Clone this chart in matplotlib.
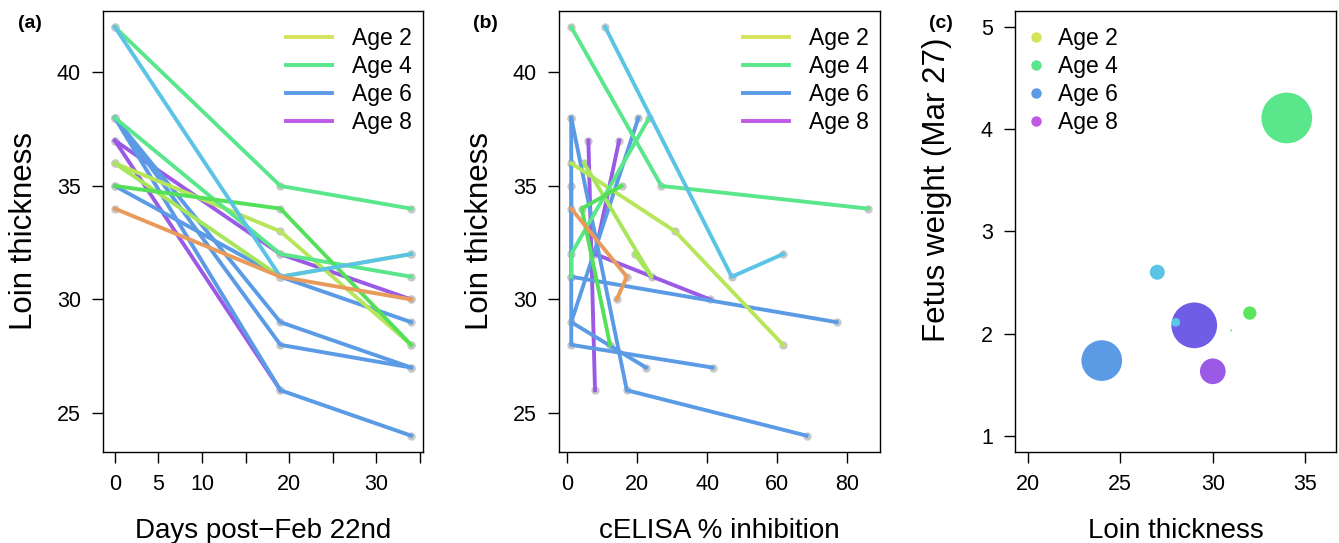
import numpy as np
import matplotlib
matplotlib.use('Agg')
import matplotlib.pyplot as plt
from matplotlib.lines import Line2D

plt.rcParams['font.family'] = ['Liberation Sans', 'DejaVu Sans']

nan = np.nan

# ---------------- data ----------------
days = [0, 19, 34]
animals = ['P1', 'P2', 'B1', 'B2', 'B3', 'B4', 'Y1', 'Y2', 'G1', 'G2', 'G3', 'C1', 'O1']
loin_d0 = [37, 37, 38, 38, 38, 35, 36, 36, 42, 38, 35, 42, 34]
loin_d19 = [26, 32, 29, 28, 26, 31, 33, 31, 35, 32, 34, 31, 31]
loin_d34 = [nan, 30, 27, 27, 24, 29, 28, 32, 34, 31, 28, 32, 30]
celisa_d0 = [6.0, 14.8, 20.3, 1.1, 1.1, 1.1, 1.1, 4.8, 1.1, 23.4, 15.5, 10.8, 1.1]
celisa_d19 = [7.9, 7.9, 1.1, 1.1, 17.0, 1.1, 30.8, 24.1, 26.9, 1.1, 4.1, 47.0, 17.0]
celisa_d34 = [nan, 40.8, 22.5, 41.5, 68.4, 77.0, 61.7, 19.3, 86.0, 1.1, 12.2, 61.7, 14.1]

age_labels = ['Age 2', 'Age 4', 'Age 6', 'Age 8']

c_loin = [34.0, 27.0, 32.0, 29.0, 28.0, 31.0, 24.0, 30.0]
c_weight = [4.11, 2.60, 2.20, 2.08, 2.11, 2.03, 1.735, 1.63]
c_size = [50.7, 15.0, 13.3, 45.7, 8.7, 2.0, 40.7, 25.7]

# ---------------- styles ----------------
age_colors = ['#d4e35a', '#5ae68a', '#5b9be6', '#c05ae6']
line_colors = ['#9b5ae6', '#9b5ae6', '#5b9be6', '#5b9be6', '#5b9be6', '#5b9be6',
               '#b8e65a', '#a6e65a', '#5ae68a', '#5ae68a', '#55e05a', '#5ac3e6', '#e89b5a']
bubble_colors = ['#5ae68a', '#5ac3e6', '#5ae65a', '#705de6', '#5ac8e6', '#5ae6a5',
                 '#5b9be6', '#9b5ae6']
dot_color = '#c8c8c8'

W, H = 1339, 543
fig = plt.figure(figsize=(W / 100, H / 100), dpi=100)

def px_axes(left, right, top=10.7, bottom=452):
    return fig.add_axes([left / W, 1 - bottom / H, (right - left) / W, (bottom - top) / H])

axa = px_axes(103, 423)
axb = px_axes(559, 880)
axc = px_axes(1015, 1336)

TICK_FS = 15.5
XLAB_FS = 20
YLAB_FS = 22.5
LEG_FS = 16.5
LW = 2.8

def style(ax):
    for s in ax.spines.values():
        s.set_linewidth(1.0)
    ax.tick_params(direction='out', length=8, width=1, pad=8, labelsize=TICK_FS,
                   top=False, right=False)

loin = np.array([loin_d0, loin_d19, loin_d34], dtype=float)   # (3, n)
cel = np.array([celisa_d0, celisa_d19, celisa_d34], dtype=float)
dx = np.array(days, dtype=float)

# ---------- panel (a) ----------
for i in range(len(animals)):
    axa.plot(dx, loin[:, i], 'o', color=dot_color, ms=6, mec='none', zorder=1)
for i in range(len(animals)):
    axa.plot(dx, loin[:, i], '-', color=line_colors[i], lw=LW, zorder=2)
axa.set_xlim(-1.36, 35.36)
axa.set_ylim(23.28, 42.72)
axa.set_xticks([0, 5, 10, 15, 20, 25, 30, 35])
axa.set_xticklabels(['0', '5', '10', '', '20', '', '30', ''])
axa.set_yticks([25, 30, 35, 40])
style(axa)
axa.set_xlabel('Days post\u2212Feb 22nd', fontsize=XLAB_FS)
axa.set_ylabel('Loin thickness', fontsize=YLAB_FS)

# ---------- panel (b) ----------
for i in range(len(animals)):
    axb.plot(cel[:, i], loin[:, i], 'o', color=dot_color, ms=6, mec='none', zorder=1)
for i in range(len(animals)):
    axb.plot(cel[:, i], loin[:, i], '-', color=line_colors[i], lw=LW, zorder=2)
axb.set_xlim(-2.4, 89.4)
axb.set_ylim(23.28, 42.72)
axb.set_xticks([0, 20, 40, 60, 80])
axb.set_yticks([25, 30, 35, 40])
style(axb)
axb.set_xlabel('cELISA % inhibition', fontsize=XLAB_FS)
axb.set_ylabel('Loin thickness', fontsize=YLAB_FS)

# ---------- panel (c) ----------
sizes = [(d * 0.72) ** 2 for d in c_size]
axc.scatter(c_loin, c_weight, s=sizes, c=bubble_colors, edgecolors='none', zorder=2)
axc.set_xlim(19.31, 36.66)
axc.set_ylim(0.84, 5.16)
axc.set_xticks([20, 25, 30, 35])
axc.set_yticks([1, 2, 3, 4, 5])
style(axc)
axc.set_xlabel('Loin thickness', fontsize=XLAB_FS)
axc.set_ylabel('Fetus weight (Mar 27)', fontsize=YLAB_FS)

# label positions
for ax, ycen in ((axa, 231), (axb, 231), (axc, 190)):
    bb = ax.get_position()
    wpx = bb.width * W
    hpx = bb.height * H
    ax.yaxis.set_label_coords(-63.5 / wpx, (452 - ycen) / hpx)
    ax.xaxis.set_label_coords(0.5, -66 / hpx)

# legends
line_handles = [Line2D([], [], color=c, lw=LW) for c in age_colors]
for ax in (axa, axb):
    wpx = ax.get_position().width * W
    hpx = ax.get_position().height * H
    ax.legend(line_handles, age_labels, loc='upper right', frameon=False,
              fontsize=LEG_FS, bbox_to_anchor=(1 - 11 / wpx, 1 - 16 / hpx),
              borderpad=0, borderaxespad=0, handlelength=2.0, handletextpad=0.87,
              labelspacing=0.22)

dot_handles = [Line2D([], [], ls='none', marker='o', ms=7.5, mfc=c, mec='none')
               for c in age_colors]
wpx = axc.get_position().width * W
hpx = axc.get_position().height * H
axc.legend(dot_handles, age_labels, loc='upper left', frameon=False,
           fontsize=LEG_FS, bbox_to_anchor=(10 / wpx, 1 - 16 / hpx),
           borderpad=0, borderaxespad=0, handlelength=1.0, handletextpad=0.43,
           labelspacing=0.22)

# panel letters
for x, lab in ((30, '(a)'), (485, '(b)'), (941, '(c)')):
    fig.text(x / W, 1 - 23 / H, lab, fontsize=14, fontweight='bold',
             ha='center', va='center')

fig.savefig('out.png', dpi=100)
